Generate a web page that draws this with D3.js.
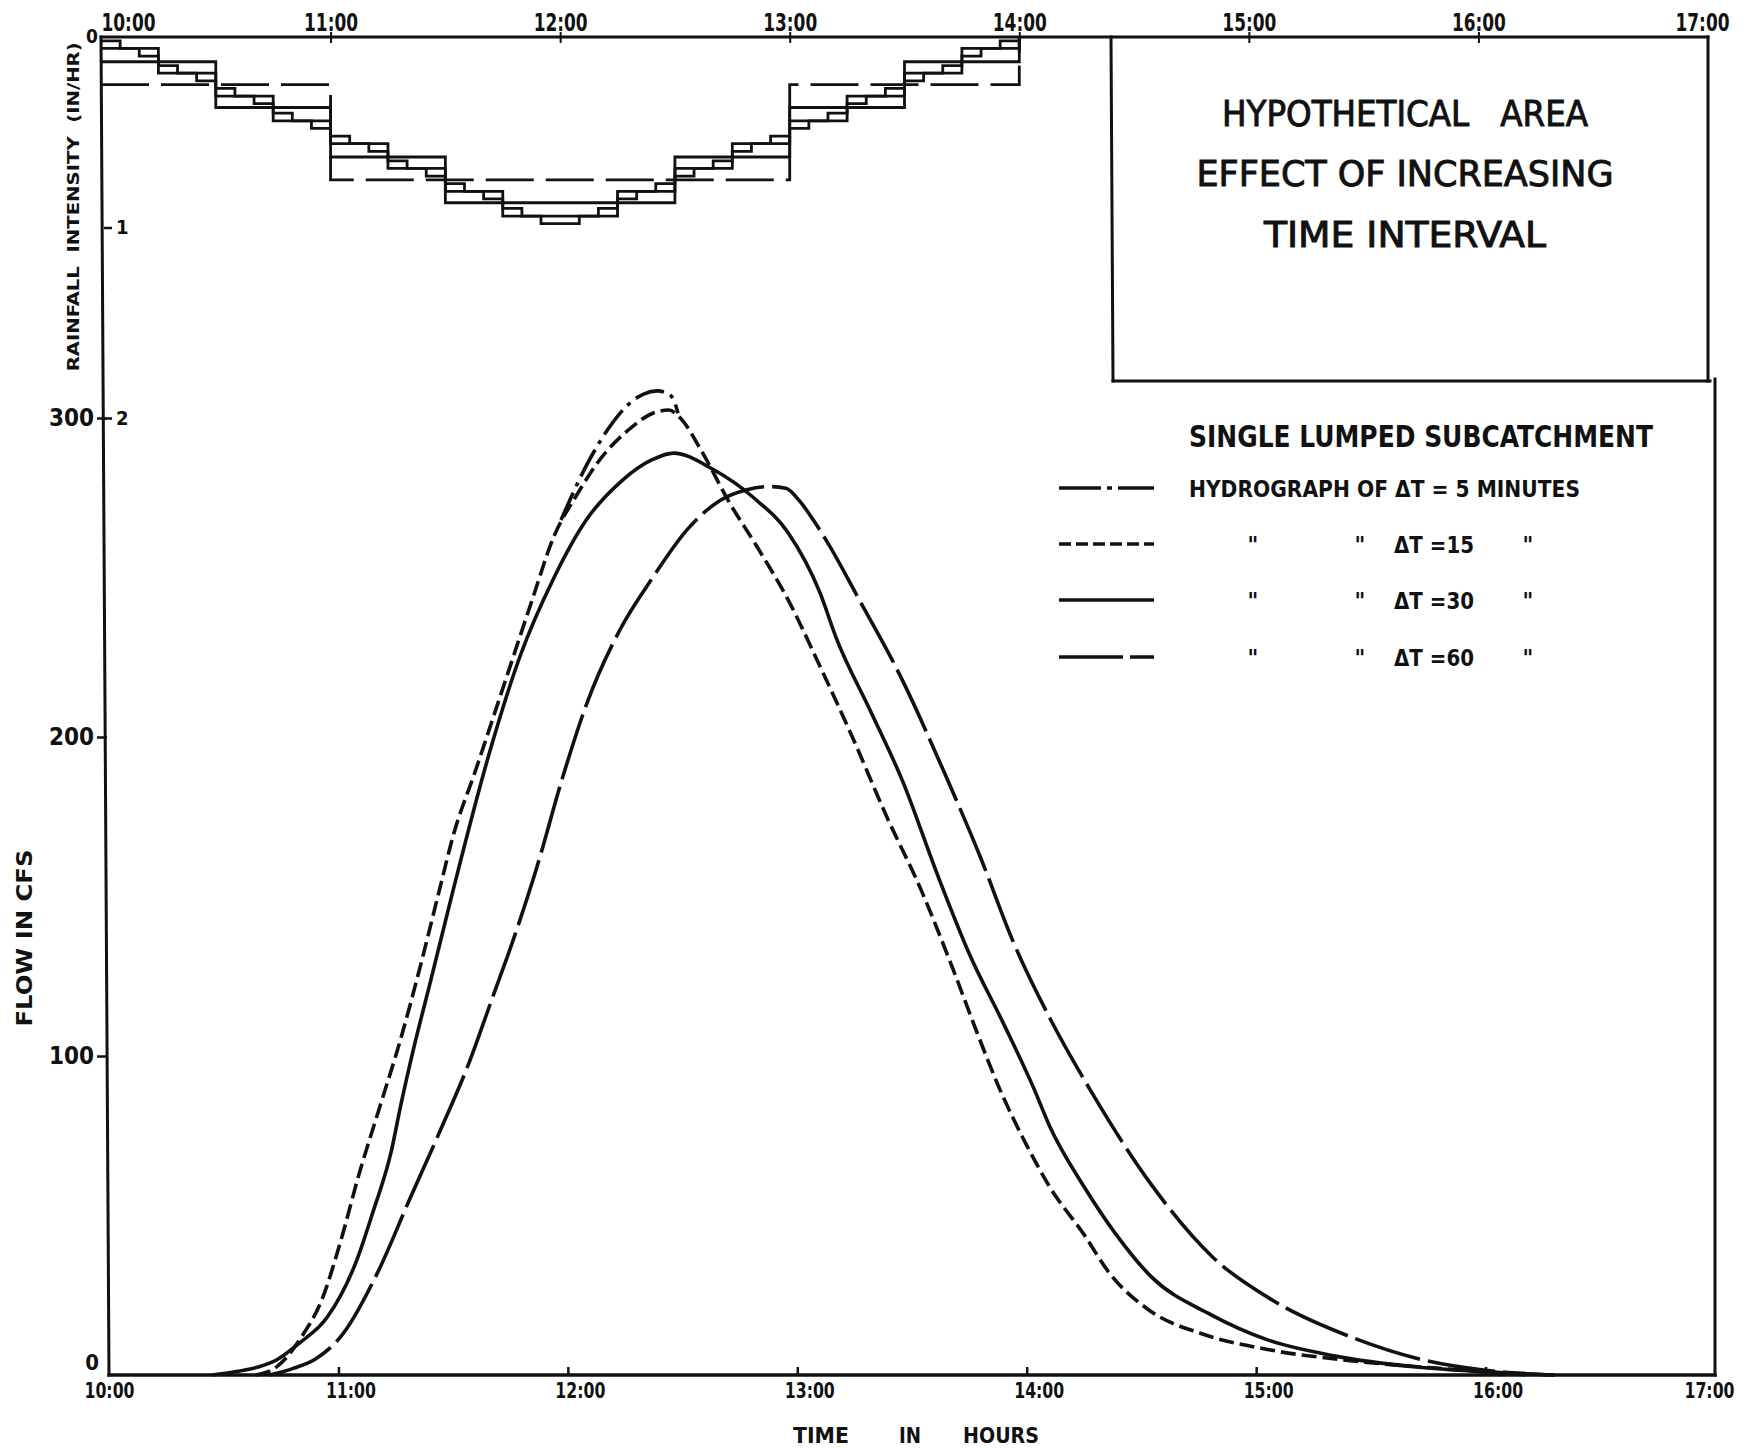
<!DOCTYPE html>
<html>
<head>
<meta charset="utf-8">
<script src="https://cdn.jsdelivr.net/npm/d3@7"></script>
<style>
  html, body { margin: 0; background: #fff; }
  svg { display: block; }
</style>
</head>
<body>
<div id="chart"></div>
<script>
// Hydrographs for a single lumped subcatchment, computed with four time steps,
// plus the hyetographs (rainfall steps) hanging from the top axis.

var hours = [10, 11, 12, 13, 14, 15, 16, 17];
var hourLabels = ["10:00", "11:00", "12:00", "13:00", "14:00", "15:00", "16:00", "17:00"];
var flowTicks = [100, 200, 300];
var rainTicks = [1, 2];

// rainfall intensity (in/hr), one value per interval starting at 10:00; storm ends 14:00
var rainStepMin = [5, 15, 30, 60];
var rain5 = [0.02, 0.06, 0.10, 0.15, 0.19, 0.23, 0.27, 0.31, 0.35, 0.40, 0.44, 0.48,
             0.52, 0.56, 0.60, 0.65, 0.69, 0.73, 0.77, 0.81, 0.85, 0.90, 0.94, 0.98,
             0.98, 0.94, 0.90, 0.85, 0.81, 0.77, 0.73, 0.69, 0.65, 0.60, 0.56, 0.52,
             0.48, 0.44, 0.40, 0.35, 0.31, 0.27, 0.23, 0.19, 0.15, 0.10, 0.06, 0.02];
var rain15 = [0.06, 0.19, 0.31, 0.44, 0.56, 0.69, 0.81, 0.94,
              0.94, 0.81, 0.69, 0.56, 0.44, 0.31, 0.19, 0.06];
var rain30 = [0.13, 0.37, 0.63, 0.87, 0.87, 0.63, 0.37, 0.13];
var rain60 = [0.25, 0.75, 0.75, 0.25];

// hydrographs: [hour of day, flow in cfs]
// the 5-minute curve only leaves the 15-minute one around the peak, so only that part is kept
var q5 = [[11.97, 268], [12.08, 285], [12.18, 297], [12.26, 304], [12.33, 307.5], [12.39, 308.5],
          [12.44, 307.5], [12.465, 305], [12.48, 301.5]];
var q15 = [[10.64, 0], [10.72, 2], [10.78, 6], [10.83, 11], [10.93, 24], [11.01, 42], [11.09, 63],
           [11.18, 84], [11.27, 105], [11.36, 129], [11.44, 152], [11.50, 169], [11.60, 190],
           [11.72, 216], [11.84, 242], [11.94, 263], [12.04, 276], [12.14, 287], [12.26, 296],
           [12.37, 301.5], [12.44, 302.5], [12.49, 300], [12.58, 290], [12.70, 274], [12.83, 259],
           [12.96, 243], [13.10, 222], [13.24, 200], [13.39, 175], [13.54, 152], [13.68, 127],
           [13.78, 108], [13.88, 90], [14.00, 72], [14.10, 59], [14.25, 44], [14.36, 32],
           [14.54, 20], [14.76, 13], [15.05, 8], [15.41, 4.5], [15.85, 1.8], [16.2, 0]];
var q30 = [[10.45, 0], [10.55, 1], [10.65, 2.5], [10.73, 4.7], [10.83, 10], [10.95, 18], [11.08, 36],
           [11.15, 51], [11.23, 70], [11.27, 84], [11.33, 103], [11.40, 123], [11.50, 152],
           [11.65, 193], [11.79, 225], [11.94, 250], [12.08, 268], [12.23, 280], [12.37, 287],
           [12.46, 289], [12.63, 284], [12.81, 275], [12.96, 264], [13.10, 245], [13.17, 231],
           [13.32, 208], [13.46, 186], [13.61, 157], [13.75, 132], [13.90, 110], [14.03, 90],
           [14.10, 78], [14.25, 59], [14.39, 44], [14.54, 31], [14.80, 19], [15.05, 11],
           [15.34, 6], [15.70, 2.5], [16.0, 1], [16.3, 0]];
var q60 = [[10.70, 0], [10.80, 2], [10.90, 5], [11.01, 12], [11.17, 32], [11.31, 55], [11.44, 76],
           [11.57, 98], [11.67, 118], [11.76, 136], [11.86, 158], [11.98, 188], [12.08, 210],
           [12.23, 234], [12.37, 250], [12.52, 265], [12.66, 274], [12.78, 277.5], [12.88, 278.5],
           [12.95, 278], [13.01, 274], [13.07, 268], [13.14, 260], [13.27, 243], [13.45, 219],
           [13.64, 189], [13.80, 162], [13.94, 136], [14.10, 112], [14.28, 89], [14.54, 60],
           [14.81, 37], [15.07, 23.5], [15.41, 12], [15.73, 4.7], [16.0, 1.5], [16.3, 0]];

var titleLines = ["HYPOTHETICAL\u00a0\u00a0\u00a0AREA", "EFFECT OF INCREASING", "TIME INTERVAL"];
var legendTitle = "SINGLE LUMPED SUBCATCHMENT";
var legendFirst = "HYDROGRAPH OF \u0394T = 5 MINUTES";
var legendSteps = ["\u0394T =15", "\u0394T =30", "\u0394T =60"];

var W = 1751, H = 1450, INK = "#111";
var BOLD = "'DejaVu Sans Condensed','DejaVu Sans',sans-serif";
var TOP = 37, BOT = 1375;

// the drawing is hand-ruled: the top axis sits a few px left of the bottom one
var xTop = d3.scaleLinear().domain([10, 17]).range([101, 1708]);
var xBot = d3.scaleLinear().domain([10, 17]).range([109, 1715]);
var yRain = d3.scaleLinear().domain([0, 2]).range([TOP, 418]);
var yFlow = d3.scaleLinear().domain([0, 300]).range([BOT, 418]);

var svg = d3.select("#chart").append("svg")
  .attr("width", W).attr("height", H).attr("viewBox", "0 0 " + W + " " + H);
svg.append("rect").attr("width", W).attr("height", H).attr("fill", "#fff");

function fit(sel, len) { return sel.attr("textLength", len).attr("lengthAdjust", "spacingAndGlyphs"); }
function seg(x1, y1, x2, y2, w) {
  svg.append("line").attr("x1", x1).attr("y1", y1).attr("x2", x2).attr("y2", y2)
    .attr("stroke", INK).attr("stroke-width", w || 3).attr("stroke-linecap", "square");
}
function label(x, y, txt, size, len, anchor) {
  var t = svg.append("text").attr("x", x).attr("y", y).attr("text-anchor", anchor || "middle")
    .attr("font-family", BOLD).attr("font-weight", "bold").attr("font-size", size)
    .attr("fill", INK).text(txt);
  if (len) fit(t, len);
  return t;
}

// frame
seg(xTop(10), TOP, xTop(17), TOP, 3);
seg(xTop(10), TOP, xBot(10), BOT, 3);
seg(xBot(10), BOT, xBot(17), BOT, 3.5);
seg(1111, TOP, 1113, 381, 3);
seg(1113, 381, xTop(17) + 2, 381, 3);
seg(xTop(17), TOP, xTop(17), 381, 3);
seg(xBot(17), 379, xBot(17), BOT, 3);

// top time axis
var topAx = svg.append("g").attr("transform", "translate(0," + TOP + ")")
  .call(d3.axisTop(xTop).tickValues(hours).tickSize(0).tickPadding(6)
    .tickFormat(function (d, i) { return hourLabels[i]; }));
topAx.select(".domain").remove();
topAx.selectAll(".tick line").attr("y1", -5).attr("y2", 6).attr("stroke", INK).attr("stroke-width", 2);
topAx.selectAll(".tick text").attr("font-family", BOLD).attr("font-weight", "bold")
  .attr("font-size", 24).attr("fill", INK)
  .attr("text-anchor", function (d, i) { return i === 0 ? "start" : "middle"; })
  .attr("dx", function (d, i) { return i === hours.length - 1 ? -6 : 0; })
  .attr("textLength", 54).attr("lengthAdjust", "spacingAndGlyphs");
topAx.selectAll(".tick").filter(function (d) { return d === 10 || d === 17; }).select("line").remove();

// bottom time axis
var botAx = svg.append("g").attr("transform", "translate(0," + BOT + ")")
  .call(d3.axisBottom(xBot).tickValues(hours).tickSize(0).tickPadding(7)
    .tickFormat(function (d, i) { return hourLabels[i]; }));
botAx.select(".domain").remove();
botAx.selectAll(".tick line").attr("y1", -8).attr("y2", 0).attr("stroke", INK).attr("stroke-width", 2.5);
botAx.selectAll(".tick text").attr("font-family", BOLD).attr("font-weight", "bold")
  .attr("font-size", 22).attr("fill", INK)
  .attr("dx", function (d, i) { return i === 0 ? 0 : (i === hours.length - 1 ? -6 : 12); })
  .attr("textLength", 50).attr("lengthAdjust", "spacingAndGlyphs");
botAx.selectAll(".tick").filter(function (d) { return d === 10 || d === 17; }).select("line").remove();

// flow axis (left)
var flowAx = svg.append("g").attr("transform", "translate(107,0)")
  .call(d3.axisLeft(yFlow).tickValues(flowTicks).tickSize(10).tickPadding(3));
flowAx.select(".domain").remove();
flowAx.selectAll(".tick line").attr("stroke", INK).attr("stroke-width", 2.5);
flowAx.selectAll(".tick text").attr("font-family", BOLD).attr("font-weight", "bold")
  .attr("font-size", 24).attr("fill", INK);
label(xBot(10) - 10, yFlow(0) - 5, "0", 22, null, "end");

// rainfall axis (right side of the same spine)
var rainAx = svg.append("g").attr("transform", "translate(104,0)")
  .call(d3.axisRight(yRain).tickValues(rainTicks).tickSize(8).tickPadding(4)
    .tickFormat(d3.format("d")));
rainAx.select(".domain").remove();
rainAx.selectAll(".tick line").attr("stroke", INK).attr("stroke-width", 2.5);
rainAx.selectAll(".tick text").attr("font-family", BOLD).attr("font-weight", "bold")
  .attr("font-size", 20).attr("fill", INK);
label(xTop(10) - 3, yRain(0) + 6, "0", 19, null, "end");

// axis titles
label(0, 0, "RAINFALL\u00a0\u00a0INTENSITY\u00a0\u00a0(IN/HR)", 15, 329)
  .attr("transform", "translate(79," + (yRain(0) + yRain(2)) / 2.2 + ") rotate(-90)");
label(0, 0, "FLOW IN CFS", 22, 177)
  .attr("transform", "translate(32,938) rotate(-90)");
label(821, 1443, "TIME", 21, 56);
label(910, 1443, "IN", 21, 22);
label(1001, 1443, "HOURS", 21, 76);

// hyetographs
var rainLine = d3.line().x(function (d) { return xTop(d[0]); }).y(function (d) { return yRain(d[1]); })
  .curve(d3.curveStepAfter);
[rain5, rain15, rain30, rain60].forEach(function (vals, k) {
  var dt = rainStepMin[k] / 60;
  var pts = vals.map(function (v, i) { return [10 + i * dt, v]; }).concat([[14, 0]]);
  svg.append("path").attr("d", rainLine(pts)).attr("fill", "none").attr("stroke", INK)
    .attr("stroke-width", 2.8).attr("stroke-dasharray", k === 3 ? "48,12" : null);
});

// hydrographs
var flowLine = d3.line().x(function (d) { return xBot(d[0]); }).y(function (d) { return yFlow(d[1]); })
  .curve(d3.curveMonotoneX);
var dashes = ["30,7,4,7", "15,6", null, "68,8"];
[[q15, 1], [q30, 2], [q60, 3], [q5, 0]].forEach(function (s) {
  svg.append("path").attr("d", flowLine(s[0])).attr("fill", "none").attr("stroke", INK)
    .attr("stroke-width", 3.6).attr("stroke-dasharray", dashes[s[1]]);
});

// title box
var tl = [[126, 366], [186, 417], [247, 282]];
titleLines.forEach(function (t, i) {
  svg.append("text").attr("x", 1405).attr("y", tl[i][0]).attr("text-anchor", "middle")
    .attr("font-family", BOLD).attr("font-size", 36).attr("fill", INK)
    .attr("stroke", INK).attr("stroke-width", 0.9)
    .attr("textLength", tl[i][1]).attr("lengthAdjust", "spacingAndGlyphs").text(t);
});

// legend
var legendDashes = ["42,6,5,6", "12,5", null, "64,7"];
label(1189, 447, legendTitle, 30, 464, "start");
var rowY = [488, 544, 600, 657];
rowY.forEach(function (y, i) {
  svg.append("line").attr("x1", 1059).attr("x2", 1154).attr("y1", y).attr("y2", y)
    .attr("stroke", INK).attr("stroke-width", 3.6).attr("stroke-dasharray", legendDashes[i]);
  if (i === 0) {
    label(1189, y + 9, legendFirst, 23, 391, "start");
  } else {
    label(1253, y + 9, "\"", 23);
    label(1360, y + 9, "\"", 23);
    label(1394, y + 9, legendSteps[i - 1], 23, 80, "start");
    label(1528, y + 9, "\"", 23);
  }
});
</script>
</body>
</html>
